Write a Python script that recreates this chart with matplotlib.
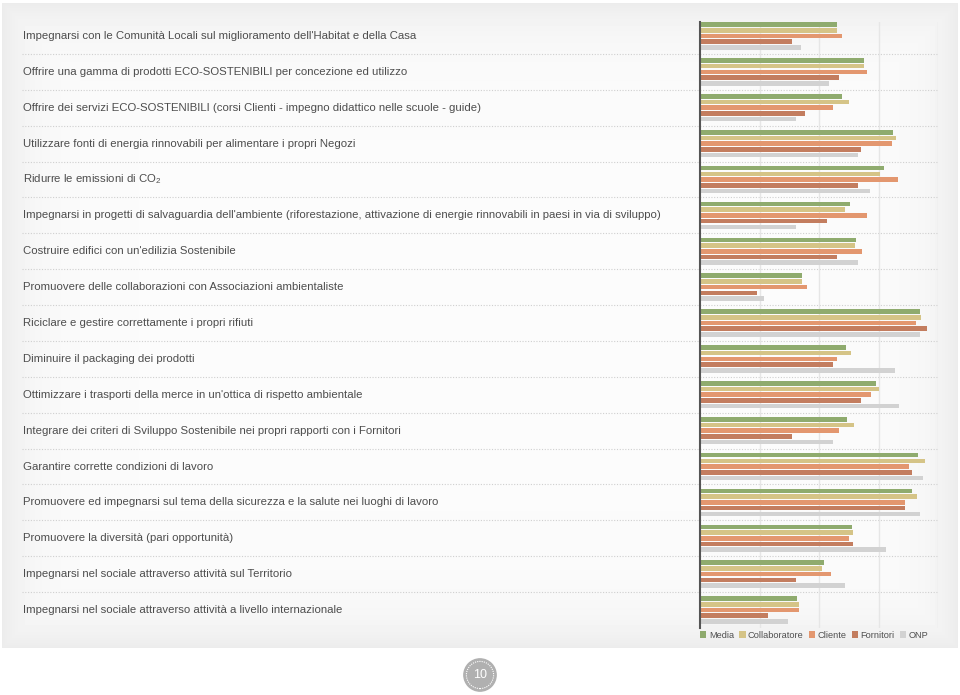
import numpy as np
import matplotlib.pyplot as plt
from matplotlib.lines import Line2D
from matplotlib.patches import Circle
from matplotlib.transforms import blended_transform_factory

plt.rcParams['font.family'] = ['Liberation Sans', 'DejaVu Sans']
plt.rcParams['mathtext.fontset'] = 'custom'
plt.rcParams['mathtext.rm'] = 'Liberation Sans'

labels = [
    "Impegnarsi con le Comunità Locali sul miglioramento dell'Habitat e della Casa",
    "Offrire una gamma di prodotti ECO-SOSTENIBILI per concezione ed utilizzo",
    "Offrire dei servizi ECO-SOSTENIBILI (corsi Clienti - impegno didattico nelle scuole - guide)",
    "Utilizzare fonti di energia rinnovabili per alimentare i propri Negozi",
    r"Ridurre le emissioni di CO$_\mathregular{2}$",
    "Impegnarsi in progetti di salvaguardia dell'ambiente (riforestazione, attivazione di energie rinnovabili in paesi in via di sviluppo)",
    "Costruire edifici con un'edilizia Sostenibile",
    "Promuovere delle collaborazioni con Associazioni ambientaliste",
    "Riciclare e gestire correttamente i propri rifiuti",
    "Diminuire il packaging dei prodotti",
    "Ottimizzare i trasporti della merce in un'ottica di rispetto ambientale",
    "Integrare dei criteri di Sviluppo Sostenibile nei propri rapporti con i Fornitori",
    "Garantire corrette condizioni di lavoro",
    "Promuovere ed impegnarsi sul tema della sicurezza e la salute nei luoghi di lavoro",
    "Promuovere la diversità (pari opportunità)",
    "Impegnarsi nel sociale attraverso attività sul Territorio",
    "Impegnarsi nel sociale attraverso attività a livello internazionale",
]

series = ["Media", "Collaboratore", "Cliente", "Fornitori", "ONP"]
colors = ["#8fab6e", "#d5c487", "#e3976f", "#c37d5f", "#d2d2d2"]

media = [2.30, 2.75, 2.38, 3.25, 3.09, 2.52, 2.62, 1.71, 3.69, 2.46, 2.95, 2.47, 3.67, 3.57, 2.56, 2.08, 1.63]
collaboratore = [2.31, 2.76, 2.51, 3.30, 3.02, 2.44, 2.61, 1.72, 3.72, 2.53, 3.00, 2.58, 3.78, 3.64, 2.57, 2.05, 1.67]
cliente = [2.39, 2.81, 2.23, 3.22, 3.32, 2.80, 2.72, 1.79, 3.63, 2.31, 2.88, 2.34, 3.51, 3.44, 2.51, 2.20, 1.67]
fornitori = [1.55, 2.33, 1.76, 2.70, 2.66, 2.14, 2.31, 0.96, 3.82, 2.23, 2.70, 1.55, 3.56, 3.44, 2.57, 1.61, 1.15]
onp = [1.70, 2.16, 1.61, 2.65, 2.86, 1.61, 2.65, 1.07, 3.69, 3.27, 3.35, 2.24, 3.75, 3.69, 3.13, 2.44, 1.48]
values = [media, collaboratore, cliente, fornitori, onp]

W, H = 960, 695
fig = plt.figure(figsize=(9.6, 6.95), dpi=100)
fig.patch.set_facecolor('white')

# background panel with soft grey edges
bg = fig.add_axes([2 / W, (H - 648) / H, 956 / W, 645 / H])
bg.set_axis_off()
gx = np.arange(956)
gy = np.arange(645)
dx = np.minimum(gx, 955 - gx)[None, :]
dy = np.minimum(gy, 644 - gy)[:, None]
d = np.minimum(dx, dy)
shade = 0.985 - 0.06 * np.exp(-d / 30.0)
bg.imshow(shade, cmap='gray', vmin=0, vmax=1, aspect='auto', interpolation='bilinear')

ax = fig.add_axes([700 / W, (H - 628) / H, 238 / W, 606 / H])
ax.patch.set_alpha(0)
n = len(labels)
y = np.arange(n)
step = 0.159
hgt = 0.128
for k, (name, vals, c) in enumerate(zip(series, values, colors)):
    ax.barh(y + (k - 2) * step, vals, height=hgt, color=c, label=name, zorder=3)

ax.set_xlim(0, 4)
ax.set_ylim(n - 0.5, -0.39)
ax.set_xticks([1, 2, 3, 4])
ax.set_yticks([])
ax.tick_params(axis='x', length=0, labelbottom=False)
ax.grid(axis='x', color='#e6e6e6', linewidth=1.0, zorder=0)
for s in ['top', 'right', 'bottom']:
    ax.spines[s].set_visible(False)
ax.spines['left'].set_color('#555555')
ax.spines['left'].set_linewidth(1.5)
ax.spines['left'].set_zorder(4)

tr = blended_transform_factory(fig.transFigure, ax.transData)
for i, lab in enumerate(labels):
    ax.text(23 / W, i, lab, transform=tr, ha='left', va='center',
            fontsize=8.17, color='#4d4d4d', clip_on=False)
for i in range(n - 1):
    ax.add_line(Line2D([22 / W, 938 / W], [i + 0.5, i + 0.5], transform=tr,
                       color='#cfcfcf', linewidth=0.8, linestyle=(0, (1, 1.5)),
                       clip_on=False, zorder=1))

ax.legend(loc='upper left', bbox_to_anchor=(-0.012, 0.0), ncol=5, frameon=False,
          fontsize=6.7, handlelength=0.7, handleheight=0.7, handletextpad=0.25,
          columnspacing=0.55, borderaxespad=0.1, borderpad=0.2, labelcolor='#505050')

# page number
pg = fig.add_axes([463 / W, (H - 692) / H, 34 / W, 34 / H])
pg.set_xlim(-1, 1)
pg.set_ylim(-1, 1)
pg.set_aspect('equal')
pg.set_axis_off()
pg.add_patch(Circle((0, 0), 0.95, color='#b0b0b0'))
pg.add_patch(Circle((0, 0), 0.8, fill=False, edgecolor='white', linewidth=0.8, linestyle=(0, (1, 1))))
pg.text(0, -0.02, "10", ha='center', va='center', color='white', fontsize=9)

fig.savefig('out.png', dpi=100)
